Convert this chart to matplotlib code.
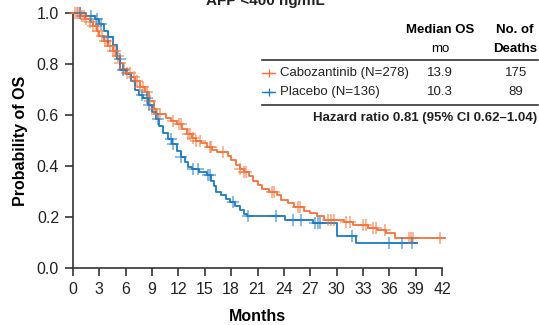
import matplotlib.pyplot as plt
import numpy as np

plt.rcParams['font.family'] = ['Liberation Sans', 'DejaVu Sans']

# Kaplan-Meier curves: (months, survival after the step)
cabo_t = [0, 0.9, 1.4, 1.9, 2.3, 2.7, 3.0, 3.5, 4.0, 4.5, 4.9, 5.3, 5.7, 6.1, 6.6,
          7.0, 7.6, 8.2, 8.7, 9.2, 9.5, 10.6, 11.2, 11.8, 12.4, 13.0, 13.5, 14.0,
          14.6, 15.2, 15.8, 16.4, 17.6, 18.0, 18.5, 19.0, 19.5, 20.0, 20.5, 21.0,
          21.5, 22.3, 23.2, 23.7, 24.5, 25.2, 26.3, 27.0, 27.8, 28.6, 30.8, 31.9,
          33.6, 34.6, 35.6, 36.6, 42.3]
cabo_s = [1.0, 0.99, 0.978, 0.965, 0.95, 0.93, 0.91, 0.89, 0.87, 0.85, 0.83, 0.805,
          0.78, 0.765, 0.75, 0.735, 0.71, 0.69, 0.655, 0.625, 0.605, 0.59, 0.575,
          0.565, 0.545, 0.525, 0.51, 0.50, 0.49, 0.475, 0.462, 0.455, 0.44, 0.425,
          0.405, 0.39, 0.375, 0.36, 0.34, 0.325, 0.31, 0.30, 0.285, 0.268, 0.255,
          0.24, 0.225, 0.215, 0.205, 0.19, 0.182, 0.168, 0.158, 0.148, 0.137,
          0.116, 0.116]
cabo_cens = [0.2, 0.4, 0.6, 0.8, 1.0, 1.2, 1.5, 1.9, 2.3, 2.6, 2.9, 3.3, 3.6, 3.9,
             4.2, 4.5, 4.8, 5.1, 5.4, 5.8, 6.2, 6.5, 6.9, 7.3, 7.6, 8.0, 8.4, 8.8,
             9.2, 9.6, 9.9, 11.4, 12.1, 12.3, 13.1, 13.3, 13.7, 14.0, 14.4, 15.6,
             15.7, 17.1, 19.0, 19.5, 19.7, 22.6, 22.9, 25.6, 25.8, 29.0, 29.4, 29.7,
             31.1, 31.5, 33.0, 33.3, 34.2, 34.5, 35.5, 38.2, 38.5, 38.7, 41.8]

pbo_t = [0, 1.5, 2.5, 3.0, 3.5, 4.0, 4.5, 5.0, 5.4, 6.0, 6.6, 7.0, 7.5, 8.0, 8.5,
         9.0, 9.4, 9.8, 10.3, 10.8, 11.3, 11.8, 12.3, 12.8, 13.1, 13.6, 14.3, 15.2,
         15.7, 16.0, 16.3, 16.9, 17.4, 17.9, 18.4, 19.0, 19.5, 19.8, 24.1, 27.3,
         30.1, 32.2, 39.1]
pbo_s = [1.0, 0.99, 0.975, 0.955, 0.93, 0.905, 0.875, 0.82, 0.775, 0.76, 0.735,
         0.70, 0.68, 0.665, 0.64, 0.61, 0.585, 0.555, 0.53, 0.505, 0.485, 0.46,
         0.437, 0.415, 0.398, 0.39, 0.378, 0.365, 0.34, 0.32, 0.30, 0.285, 0.272,
         0.258, 0.245, 0.228, 0.21, 0.204, 0.19, 0.178, 0.125, 0.097, 0.097]
pbo_cens = [0.8, 2.1, 2.7, 3.2, 4.0, 5.3, 5.7, 7.8, 8.4, 8.7, 9.7, 11.2, 11.4, 12.3,
            13.65, 14.2, 15.4, 15.6, 18.2, 19.9, 23.1, 25.0, 25.9, 27.6, 27.9, 28.1,
            31.8, 36.0, 37.5, 38.6]

orange = '#F4733A'
blue = '#1B7CC3'

fig = plt.figure(figsize=(5.39, 3.25), dpi=100)
ax = fig.add_axes([73 / 539, 1 - 268 / 325, (442 - 73) / 539, 255 / 325])


def km(t, s, cens, color):
    ax.step(t, s, where='post', color=color, lw=1.3, clip_on=False, zorder=3)
    idx = np.searchsorted(t, cens, side='right') - 1
    ys = np.array(s)[idx]
    ax.plot(cens, ys, ls='none', marker='+', ms=9, mew=1.2, color=color,
            alpha=0.6, clip_on=False, zorder=4)


km(cabo_t, cabo_s, cabo_cens, orange)
km(pbo_t, pbo_s, pbo_cens, blue)

ax.set_xlim(0, 42)
ax.set_ylim(0, 1)
ax.set_xticks(np.arange(0, 43, 3))
ax.set_yticks(np.arange(0, 1.01, 0.2))
ax.set_yticklabels(['0.0', '0.2', '0.4', '0.6', '0.8', '1.0'])
for sp in ['top', 'right']:
    ax.spines[sp].set_visible(False)
for sp in ['left', 'bottom']:
    ax.spines[sp].set_color('#333333')
    ax.spines[sp].set_linewidth(1.2)
ax.tick_params(direction='out', length=6, width=1.2, color='#333333',
               labelsize=11.5, labelcolor='#222222', pad=4)
ax.set_xlabel('Months', fontsize=11.5, fontweight='bold', labelpad=9)
ax.set_ylabel('Probability of OS', fontsize=11.5, fontweight='bold', labelpad=6)


def px(x, y):
    return x / 539, 1 - y / 325


fig.text(*px(265, 5), 'AFP <400 ng/mL', ha='center', va='baseline',
         fontsize=11, fontweight='bold', color='#222222')

fs = 9.5
fig.text(*px(440, 30), 'Median OS', ha='center', va='center', fontsize=fs, fontweight='bold')
fig.text(*px(440, 49), 'mo', ha='center', va='center', fontsize=fs)
fig.text(*px(515, 30), 'No. of', ha='center', va='center', fontsize=fs, fontweight='bold')
fig.text(*px(515, 49), 'Deaths', ha='center', va='center', fontsize=fs, fontweight='bold')

for yy in [60, 105]:
    fig.add_artist(plt.Line2D([262 / 539, 538 / 539], [1 - yy / 325] * 2,
                              color='#333333', lw=1.2))

rows = [('Cabozantinib (N=278)', '13.9', '175', orange, 73),
        ('Placebo (N=136)', '10.3', '89', blue, 92)]
for name, med, deaths, col, yy in rows:
    fig.add_artist(plt.Line2D([262 / 539, 275 / 539], [1 - yy / 325] * 2,
                              color=col, lw=1.0))
    fig.add_artist(plt.Line2D([268.5 / 539], [1 - yy / 325], color=col,
                              marker='+', ms=6, mew=0.9))
    fig.text(*px(280, yy), name, ha='left', va='center', fontsize=fs, color='#222222')
    fig.text(*px(440, yy), med, ha='center', va='center', fontsize=fs, color='#222222')
    fig.text(*px(516, yy), deaths, ha='center', va='center', fontsize=fs, color='#222222')

fig.text(*px(537, 118), 'Hazard ratio 0.81 (95% CI 0.62\u20131.04)', ha='right',
         va='center', fontsize=fs, fontweight='bold', color='#222222')

fig.savefig('out.png', dpi=100)
